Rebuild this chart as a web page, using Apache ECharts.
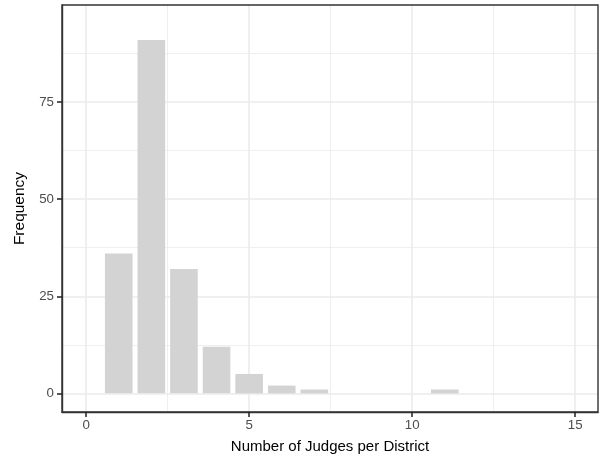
<!DOCTYPE html>
<html><head><meta charset="utf-8">
<script src="https://cdn.jsdelivr.net/npm/echarts@6/dist/echarts.min.js"></script>
<style>html,body{margin:0;padding:0;background:#fff}#c{width:606px;height:463px}</style>
</head><body><div id="c"></div>
<script>
// Data
const judges = [1, 2, 3, 4, 5, 6, 7, 8, 9, 10, 11, 12, 13, 14, 15];
const frequency = [36, 91, 32, 12, 5, 2, 1, 0, 0, 0, 1, 0, 0, 0, 0];
const xTicks = [0, 5, 10, 15];
const xMinor = [2.5, 7.5, 12.5];
const yTicks = [0, 25, 50, 75];
const yMinor = [12.5, 37.5, 62.5, 87.5];

const font = 'Liberation Sans, Arial, sans-serif';
const chart = echarts.init(document.getElementById('c'), null, {renderer: 'canvas'});
const gridLine = (arr, key, w) => arr.map(v => ({[key]: v, lineStyle: {color: '#ebebeb', width: w, type: 'solid'}}));
const axisLineStyle = {show: true, onZero: false, lineStyle: {color: '#333333', width: 1.4}};

chart.setOption({
  animation: false,
  backgroundColor: '#ffffff',
  grid: {left: 62, right: 8, top: 5, bottom: 51, show: true, borderColor: '#333333', borderWidth: 1.4, backgroundColor: 'transparent', z: 20},
  xAxis: {
    type: 'value', min: -0.74, max: 15.7, z: 20,
    name: 'Number of Judges per District', nameLocation: 'middle', nameGap: 27,
    nameTextStyle: {color: '#000', fontSize: 15, fontFamily: font},
    axisLine: axisLineStyle,
    axisTick: {show: true, inside: false, customValues: xTicks, length: 5, lineStyle: {color: '#222222', width: 1.5}},
    axisLabel: {customValues: xTicks, color: '#4d4d4d', fontSize: 13.3, fontFamily: font, margin: 7},
    splitLine: {show: false}
  },
  yAxis: {
    type: 'value', min: -4.8, max: 100, z: 20,
    name: 'Frequency', nameLocation: 'middle', nameGap: 34,
    nameTextStyle: {color: '#000', fontSize: 15.5, fontFamily: font},
    axisLine: axisLineStyle,
    axisTick: {show: true, inside: false, customValues: yTicks, length: 5, lineStyle: {color: '#222222', width: 1.5}},
    axisLabel: {customValues: yTicks, color: '#4d4d4d', fontSize: 13.3, fontFamily: font, margin: 8},
    splitLine: {show: false}
  },
  series: [
    {
      type: 'line', data: [], silent: true, z: 0, zlevel: 0,
      markLine: {
        silent: true, z: 0, symbol: ['none', 'none'], label: {show: false}, animation: false,
        data: [].concat(
          gridLine(xMinor, 'xAxis', 0.8), gridLine(yMinor, 'yAxis', 0.8),
          gridLine(xTicks, 'xAxis', 1.6), gridLine(yTicks, 'yAxis', 1.6)
        )
      }
    },
    {
      type: 'bar', z: 10,
      data: judges.map((j, i) => [j, frequency[i]]),
      barWidth: 27.6,
      itemStyle: {color: '#d3d3d3'}
    }
  ]
});
</script></body></html>
